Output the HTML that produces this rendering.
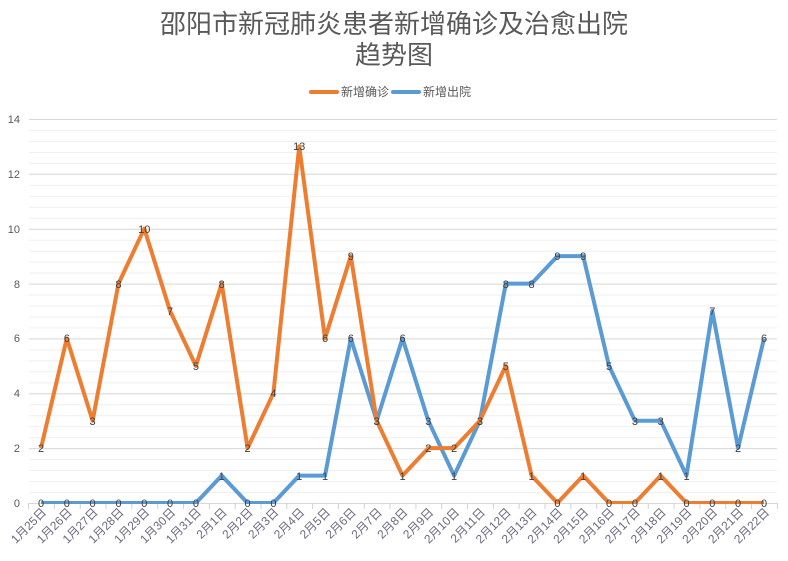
<!DOCTYPE html>
<html><head><meta charset="utf-8"><style>
html,body{margin:0;padding:0;background:#fff;}
svg{display:block;font-family:"Liberation Sans","Noto Sans CJK SC",sans-serif;}
</style></head><body>
<svg width="788" height="561" viewBox="0 0 788 561" xmlns="http://www.w3.org/2000/svg">
<defs>
<pattern id="minor" x="0" y="119" width="10" height="10.972" patternUnits="userSpaceOnUse"><line x1="0" y1="0.5" x2="10" y2="0.5" stroke="#efefef" stroke-width="1"/></pattern>
<pattern id="ticks" x="28.1" y="0" width="25.82" height="10" patternUnits="userSpaceOnUse"><line x1="0.5" y1="0" x2="0.5" y2="10" stroke="#d0d0d0" stroke-width="1"/></pattern>
<clipPath id="pc"><rect x="0" y="0" width="788" height="504"/></clipPath>
</defs>
<text x="394" y="33" text-anchor="middle" font-size="26" fill="#595959">邵阳市新冠肺炎患者新增确诊及治愈出院</text>
<text x="394" y="64" text-anchor="middle" font-size="26" fill="#595959">趋势图</text>
<line x1="311" y1="92" x2="337" y2="92" stroke="#ED7D31" stroke-width="4" stroke-linecap="round"/>
<text x="341" y="96" font-size="12" fill="#595959">新增确诊</text>
<line x1="393" y1="92" x2="419" y2="92" stroke="#5B9BD5" stroke-width="4" stroke-linecap="round"/>
<text x="423" y="96" font-size="12" fill="#595959">新增出院</text>
<rect x="29" y="119" width="748" height="384" fill="url(#minor)"/>
<g stroke="#d9d9d9" stroke-width="1">
<line x1="29" y1="119.5" x2="777" y2="119.5"/>
<line x1="29" y1="174.3" x2="777" y2="174.3"/>
<line x1="29" y1="229.2" x2="777" y2="229.2"/>
<line x1="29" y1="284.1" x2="777" y2="284.1"/>
<line x1="29" y1="338.9" x2="777" y2="338.9"/>
<line x1="29" y1="393.8" x2="777" y2="393.8"/>
<line x1="29" y1="448.6" x2="777" y2="448.6"/>
<line x1="29" y1="503.5" x2="777" y2="503.5"/>
</g>
<rect x="28" y="503" width="750" height="6" fill="url(#ticks)"/>
<g font-size="11" fill="#595959" text-anchor="end">
<text x="20" y="123">14</text><text x="20" y="178">12</text><text x="20" y="233">10</text>
<text x="20" y="288">8</text><text x="20" y="342">6</text><text x="20" y="397">4</text>
<text x="20" y="452">2</text><text x="20" y="507">0</text>
</g>
<g clip-path="url(#pc)" fill="none" stroke-width="4" stroke-linejoin="round">
<polyline stroke="#5B9BD5" points="41,503 66.8,503 92.6,503 118.5,503 144.3,503 170.1,503 195.9,503 221.7,475.6 247.6,503 273.4,503 299.2,475.6 325,475.6 350.8,338.4 376.7,420.7 402.5,338.4 428.3,420.7 454.1,475.6 479.9,420.7 505.8,283.6 531.6,283.6 557.4,256.1 583.2,256.1 609,365.9 634.9,420.7 660.7,420.7 686.5,475.6 712.3,311 738.1,448.1 764,338.4"/>
<polyline stroke="#ED7D31" points="41,448.1 66.8,338.4 92.6,420.7 118.5,283.6 144.3,228.7 170.1,311 195.9,365.9 221.7,283.6 247.6,448.1 273.4,393.3 299.2,146.4 325,338.4 350.8,256.1 376.7,420.7 402.5,475.6 428.3,448.1 454.1,448.1 479.9,420.7 505.8,365.9 531.6,475.6 557.4,503 583.2,475.6 609,503 634.9,503 660.7,475.6 686.5,503 712.3,503 738.1,503 764,503"/>
</g>
<g font-size="11" fill="#404040" text-anchor="middle">
<text x="41" y="452">2</text><text x="66.8" y="342">6</text><text x="92.6" y="425">3</text><text x="118.5" y="288">8</text><text x="144.3" y="233">10</text><text x="170.1" y="315">7</text><text x="195.9" y="370">5</text><text x="221.7" y="288">8</text><text x="247.6" y="452">2</text><text x="273.4" y="397">4</text><text x="299.2" y="150">13</text><text x="325" y="342">6</text><text x="350.8" y="260">9</text><text x="376.7" y="425">3</text><text x="402.5" y="480">1</text><text x="428.3" y="452">2</text><text x="454.1" y="452">2</text><text x="479.9" y="425">3</text><text x="505.8" y="370">5</text><text x="531.6" y="480">1</text><text x="557.4" y="507">0</text><text x="583.2" y="480">1</text><text x="609" y="507">0</text><text x="634.9" y="507">0</text><text x="660.7" y="480">1</text><text x="686.5" y="507">0</text><text x="712.3" y="507">0</text><text x="738.1" y="507">0</text><text x="764" y="507">0</text>
<text x="41" y="507">0</text><text x="66.8" y="507">0</text><text x="92.6" y="507">0</text><text x="118.5" y="507">0</text><text x="144.3" y="507">0</text><text x="170.1" y="507">0</text><text x="195.9" y="507">0</text><text x="221.7" y="480">1</text><text x="247.6" y="507">0</text><text x="273.4" y="507">0</text><text x="299.2" y="480">1</text><text x="325" y="480">1</text><text x="350.8" y="342">6</text><text x="376.7" y="425">3</text><text x="402.5" y="342">6</text><text x="428.3" y="425">3</text><text x="454.1" y="480">1</text><text x="479.9" y="425">3</text><text x="505.8" y="288">8</text><text x="531.6" y="288">8</text><text x="557.4" y="260">9</text><text x="583.2" y="260">9</text><text x="609" y="370">5</text><text x="634.9" y="425">3</text><text x="660.7" y="425">3</text><text x="686.5" y="480">1</text><text x="712.3" y="315">7</text><text x="738.1" y="452">2</text><text x="764" y="342">6</text>
</g>
<g font-size="12" fill="#6a6a80" text-anchor="end">
<text transform="translate(47,513) rotate(-45)">1月25日</text>
<text transform="translate(72.8,513) rotate(-45)">1月26日</text>
<text transform="translate(98.6,513) rotate(-45)">1月27日</text>
<text transform="translate(124.5,513) rotate(-45)">1月28日</text>
<text transform="translate(150.3,513) rotate(-45)">1月29日</text>
<text transform="translate(176.1,513) rotate(-45)">1月30日</text>
<text transform="translate(201.9,513) rotate(-45)">1月31日</text>
<text transform="translate(227.7,513) rotate(-45)">2月1日</text>
<text transform="translate(253.6,513) rotate(-45)">2月2日</text>
<text transform="translate(279.4,513) rotate(-45)">2月3日</text>
<text transform="translate(305.2,513) rotate(-45)">2月4日</text>
<text transform="translate(331,513) rotate(-45)">2月5日</text>
<text transform="translate(356.8,513) rotate(-45)">2月6日</text>
<text transform="translate(382.7,513) rotate(-45)">2月7日</text>
<text transform="translate(408.5,513) rotate(-45)">2月8日</text>
<text transform="translate(434.3,513) rotate(-45)">2月9日</text>
<text transform="translate(460.1,513) rotate(-45)">2月10日</text>
<text transform="translate(485.9,513) rotate(-45)">2月11日</text>
<text transform="translate(511.8,513) rotate(-45)">2月12日</text>
<text transform="translate(537.6,513) rotate(-45)">2月13日</text>
<text transform="translate(563.4,513) rotate(-45)">2月14日</text>
<text transform="translate(589.2,513) rotate(-45)">2月15日</text>
<text transform="translate(615,513) rotate(-45)">2月16日</text>
<text transform="translate(640.9,513) rotate(-45)">2月17日</text>
<text transform="translate(666.7,513) rotate(-45)">2月18日</text>
<text transform="translate(692.5,513) rotate(-45)">2月19日</text>
<text transform="translate(718.3,513) rotate(-45)">2月20日</text>
<text transform="translate(744.1,513) rotate(-45)">2月21日</text>
<text transform="translate(770,513) rotate(-45)">2月22日</text>
</g>
</svg>
</body></html>
